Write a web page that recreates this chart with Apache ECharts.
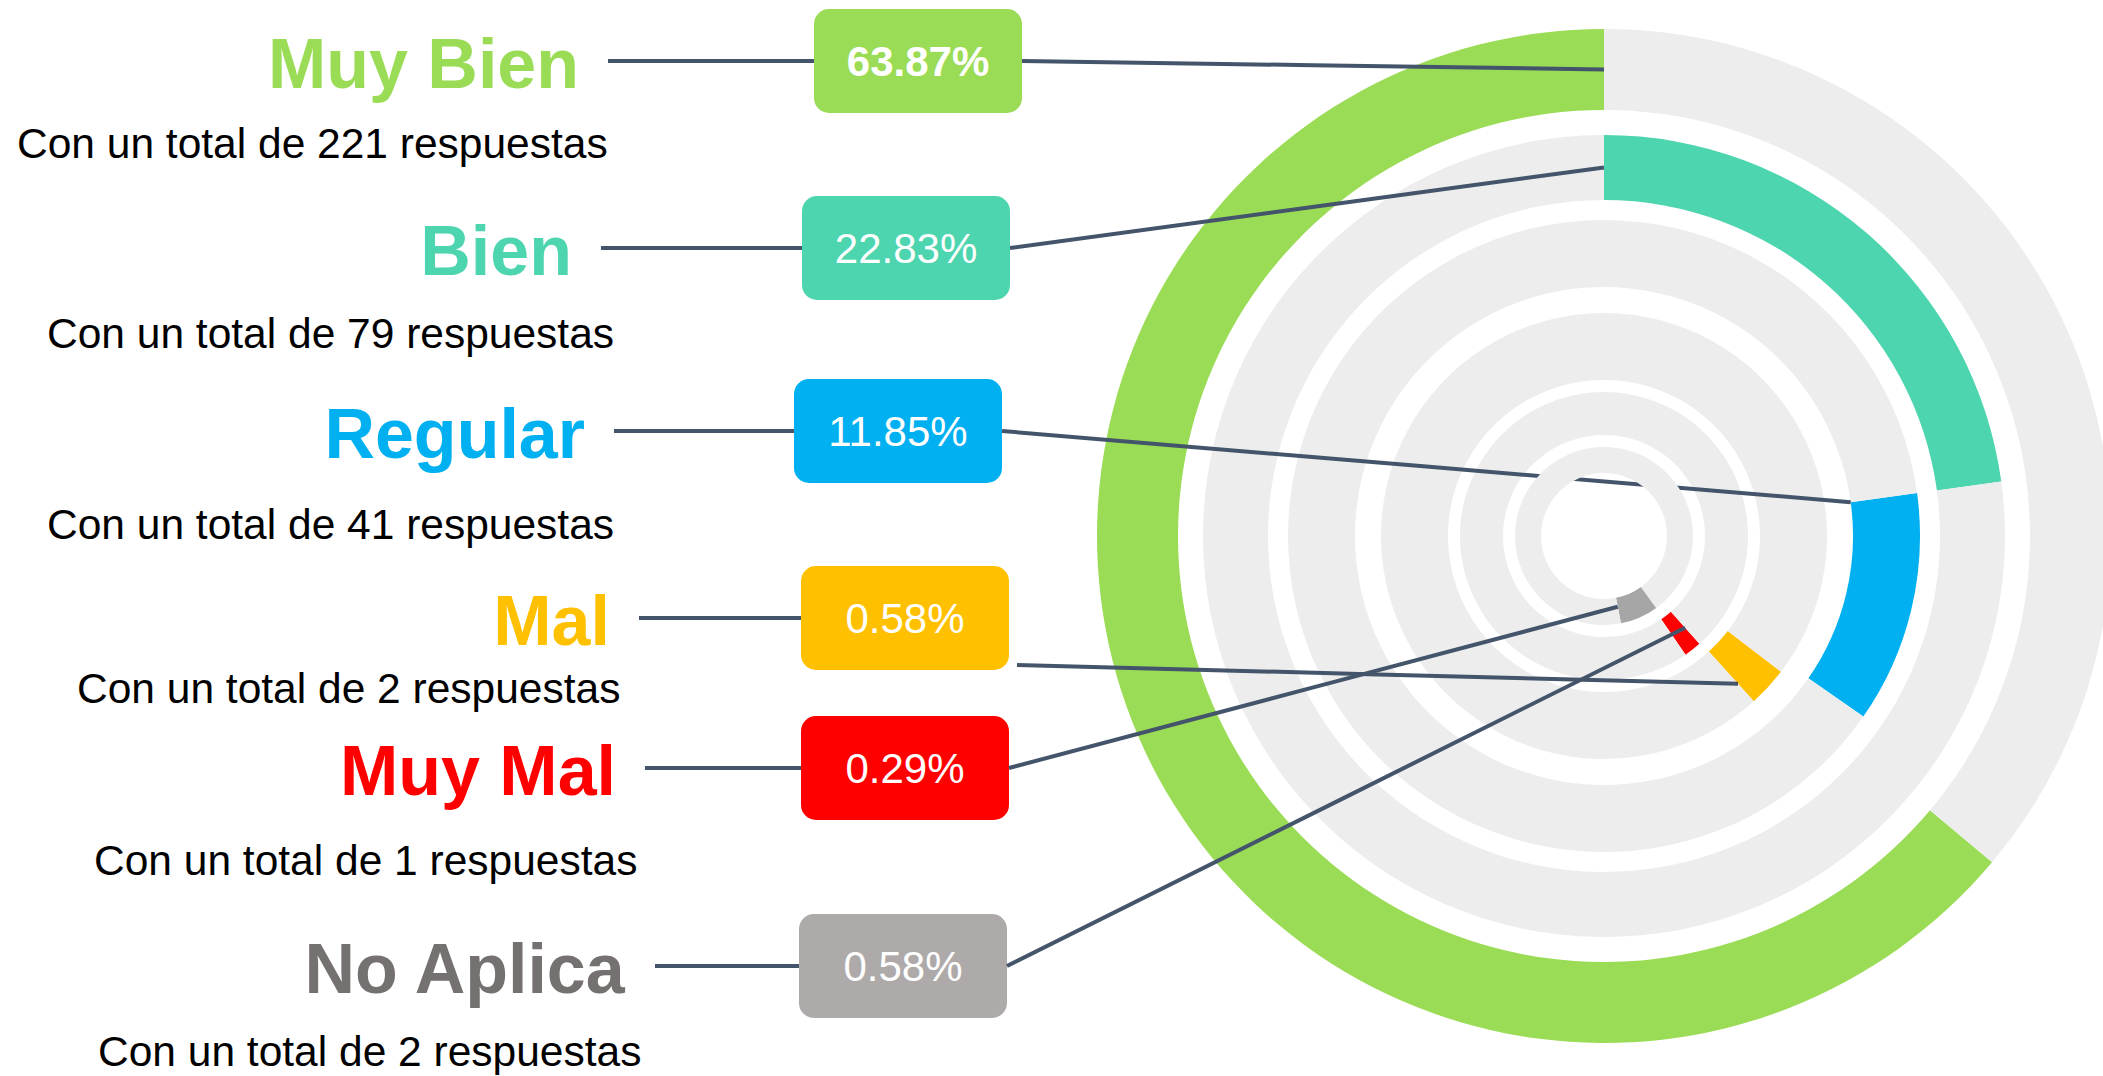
<!DOCTYPE html>
<html>
<head>
<meta charset="utf-8">
<script src="https://cdn.jsdelivr.net/npm/echarts@6/dist/echarts.min.js"></script>
<style>
html,body{margin:0;padding:0;background:#ffffff;}
#chart{width:2103px;height:1076px;}
</style>
</head>
<body>
<div id="chart"></div>
<script>
// ---- data ----
const categories = ['Muy Bien', 'Bien', 'Regular', 'Mal', 'Muy Mal', 'No Aplica'];
const counts = [221, 79, 41, 2, 1, 2];

// ---- styles ----
const FONT = "'Liberation Sans', Arial, Helvetica, sans-serif";
const arcColors   = ['#9BDC56', '#4DD5B0', '#00B0F0', '#FFC000', '#FF0000', '#A6A6A6'];
const boxColors   = ['#9BDC56', '#4DD5B0', '#00B0F0', '#FFC000', '#FF0000', '#AEAAAA'];
const titleColors = ['#9BDC56', '#4DD5B0', '#00B0F0', '#FFC000', '#FF0000', '#767171'];
const boxBold     = [true, false, false, false, false, false];
const TRACK = '#EDEDED';
const LINE = '#44546A';
const LINE_W = 4;
const CENTER = [1604, 536];

const total = counts.reduce((a, b) => a + b, 0);
const pct = counts.map(c => (c / total * 100).toFixed(2) + '%');

// ---- layout per ring (outer -> inner) ----
// anchor: [ring index the leader line points to, edge, radial fraction]
// guideZ: drawing layer of the leader line (2 = under the innermost ring)
const rings = [
  { r: [426, 507], start: 90, clockwise: false, minAngle: 0, z: 2, guideZ: 5, anchor: [0, 'start', 0.5], box: [1022, 61], attach: [0, 0], line: 206, sub: [17, 121] },
  { r: [336, 401], start: 90, clockwise: true, minAngle: 0, z: 2, guideZ: 5, anchor: [1, 'start', 0.5], box: [1010, 248], attach: [0, 0], line: 201, sub: [47, 311] },
  { r: [249, 316], start: 90 - 360 * counts[1] / total, clockwise: true, minAngle: 0, z: 2, guideZ: 2, anchor: [2, 'start', 0], box: [1002, 431], attach: [0, 0], line: 180, sub: [47, 502] },
  { r: [156, 223], start: 90 - 127.5, clockwise: true, minAngle: 10.3, z: 2, guideZ: 5, anchor: [3, 'end', 0.65], box: [1009, 618], attach: [8, 47], line: 162, sub: [77, 666] },
  { r: [101, 144], start: 90 - 138.5, clockwise: true, minAngle: 7, z: 2, guideZ: 5, anchor: [5, 'end', 0.35], box: [1009, 768], attach: [0, 0], line: 156, sub: [94, 838] },
  { r: [63, 89], start: 90 - 144, clockwise: true, minAngle: 25, z: 3, guideZ: 5, anchor: [4, 'start', 0.5], box: [1007, 966], attach: [0, 0], line: 144, sub: [98, 1029] }
];

const chart = echarts.init(document.getElementById('chart'), null, { renderer: 'svg' });

function arcPoint(ringIdx, edge, frac) {
  const lay = chart.getModel().getSeriesByIndex(ringIdx).getData().getItemLayout(0);
  const ang = edge === 'start' ? lay.startAngle : lay.endAngle;
  const rr = lay.r0 + (lay.r - lay.r0) * frac;
  return [lay.cx + rr * Math.cos(ang), lay.cy + rr * Math.sin(ang)];
}

const option = {
  animation: false,
  backgroundColor: '#ffffff',
  title: categories.map((c, i) => ({
    text: 'Con un total de ' + counts[i] + ' respuestas',
    left: rings[i].sub[0],
    top: rings[i].sub[1],
    padding: 0,
    itemGap: 0,
    textStyle: { fontFamily: FONT, fontSize: 42.5, lineHeight: 44, fontWeight: 'normal', color: '#000000' }
  })),
  series: categories.map((name, i) => {
    const L = rings[i];
    return {
      type: 'pie',
      name: name,
      z: L.z,
      left: 0, top: 0, width: 8000, height: 1076,
      center: CENTER,
      radius: L.r,
      startAngle: L.start,
      clockwise: L.clockwise,
      minAngle: L.minAngle,
      silent: true,
      avoidLabelOverlap: false,
      emphasis: { disabled: true },
      itemStyle: { borderWidth: 0 },
      label: {
        show: true,
        position: 'outside',
        fontFamily: FONT,
        formatter: () => '{t|' + name + '}{l|}{b|' + pct[i] + '}',
        rich: {
          t: { fontFamily: FONT, fontSize: 70, fontWeight: 'bold', color: titleColors[i], padding: [6, 29, 0, 0] },
          l: { width: L.line, height: LINE_W, backgroundColor: LINE },
          b: {
            fontFamily: FONT, fontSize: 42, lineHeight: 42,
            fontWeight: boxBold[i] ? 'bold' : 'normal',
            color: '#ffffff', backgroundColor: boxColors[i],
            borderRadius: 15, width: 144, align: 'center', padding: [31, 32, 31, 32]
          }
        }
      },
      labelLine: { show: true, showAbove: true, lineStyle: { color: LINE, width: LINE_W } },
      labelLayout: function (p) {
        if (p.dataIndex !== 0) return {};
        const a = arcPoint(L.anchor[0], L.anchor[1], L.anchor[2]);
        const bx = L.box[0], by = L.box[1];
        const ex = bx + L.attach[0], ey = by + L.attach[1];
        return {
          x: bx, y: by, align: 'right', verticalAlign: 'middle',
          labelLinePoints: [a, [(a[0] + ex) / 2, (a[1] + ey) / 2], [ex, ey]]
        };
      },
      data: [
        { name: name, value: counts[i], itemStyle: { color: arcColors[i] } },
        { name: 'resto', value: total - counts[i], itemStyle: { color: TRACK },
          label: { show: false }, labelLine: { show: false } }
      ]
    };
  })
};

chart.setOption(option);

// leader lines drawn above the rings (the Regular one stays under the innermost ring)
categories.forEach((c, i) => {
  const el = chart.getModel().getSeriesByIndex(i).getData().getItemGraphicEl(0);
  const guide = el && el.getTextGuideLine && el.getTextGuideLine();
  if (guide) {
    guide.z = rings[i].guideZ;
    guide.z2 = 100;
    guide.markRedraw();
  }
});
chart.getZr().refreshImmediately();
</script>
</body>
</html>
